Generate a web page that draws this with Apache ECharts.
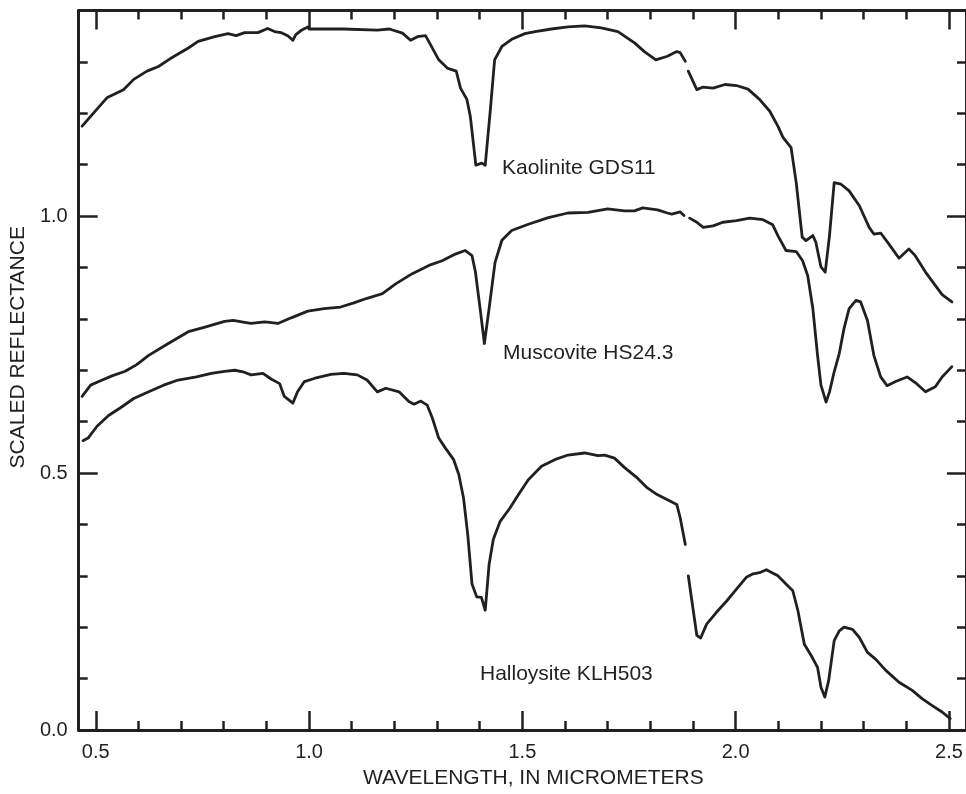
<!DOCTYPE html>
<html>
<head>
<meta charset="utf-8">
<script src="https://cdn.jsdelivr.net/npm/echarts@6/dist/echarts.min.js"></script>
<style>
  html, body { margin: 0; padding: 0; background: #fff; }
  #chart { width: 966px; height: 794px; }
</style>
</head>
<body>
<div id="chart"></div>
<script>
// spectra, [wavelength um, scaled reflectance]; null = gap in the record
const kaolinite = [
  [0.468,1.175],[0.526,1.230],[0.565,1.246],[0.589,1.266],[0.620,1.282],[0.647,1.291],[0.674,1.306],
  [0.717,1.327],[0.740,1.340],[0.779,1.349],[0.810,1.355],[0.829,1.351],[0.849,1.357],[0.880,1.357],
  [0.903,1.365],[0.919,1.359],[0.934,1.357],[0.950,1.351],[0.962,1.342],[0.969,1.353],[0.981,1.361],
  [0.997,1.368],[1.000,1.364],[1.080,1.364],[1.160,1.362],[1.188,1.364],[1.219,1.356],[1.238,1.342],
  [1.254,1.349],[1.273,1.351],[1.285,1.333],[1.304,1.304],[1.324,1.288],[1.345,1.282],[1.355,1.249],
  [1.370,1.227],[1.378,1.194],[1.391,1.099],[1.405,1.103],[1.413,1.099],[1.425,1.207],[1.435,1.304],
  [1.452,1.330],[1.475,1.344],[1.506,1.355],[1.530,1.359],[1.568,1.364],[1.607,1.368],[1.646,1.370],
  [1.685,1.366],[1.724,1.359],[1.763,1.337],[1.786,1.320],[1.813,1.304],[1.840,1.311],[1.862,1.320],
  [1.870,1.318],[1.882,1.301],[1.885,null],[1.889,1.282],[1.909,1.246],[1.924,1.251],[1.947,1.249],
  [1.975,1.256],[2.002,1.254],[2.029,1.247],[2.056,1.227],[2.080,1.204],[2.099,1.175],[2.111,1.153],
  [2.130,1.133],[2.142,1.065],[2.156,0.959],[2.165,0.952],[2.181,0.962],[2.188,0.949],[2.200,0.901],
  [2.210,0.891],[2.220,0.962],[2.231,1.065],[2.247,1.062],[2.266,1.049],[2.290,1.020],[2.313,0.978],
  [2.324,0.965],[2.340,0.967],[2.359,0.946],[2.383,0.918],[2.406,0.936],[2.421,0.923],[2.445,0.891],
  [2.468,0.865],[2.484,0.847],[2.507,0.833]
];

const muscovite = [
  [0.468,0.649],[0.488,0.671],[0.507,0.678],[0.538,0.689],[0.569,0.698],[0.596,0.711],[0.624,0.729],
  [0.670,0.752],[0.717,0.775],[0.756,0.784],[0.802,0.795],[0.822,0.797],[0.849,0.793],[0.864,0.791],
  [0.896,0.794],[0.927,0.791],[0.958,0.802],[0.997,0.815],[1.035,0.820],[1.074,0.823],[1.105,0.831],
  [1.136,0.840],[1.172,0.849],[1.203,0.868],[1.242,0.888],[1.281,0.904],[1.312,0.913],[1.343,0.926],
  [1.366,0.933],[1.382,0.923],[1.390,0.891],[1.401,0.820],[1.411,0.752],[1.422,0.820],[1.436,0.910],
  [1.452,0.953],[1.475,0.972],[1.514,0.984],[1.561,0.997],[1.607,1.006],[1.654,1.007],[1.700,1.014],
  [1.739,1.010],[1.763,1.010],[1.782,1.016],[1.817,1.012],[1.840,1.006],[1.850,1.004],[1.870,1.008],
  [1.879,1.001],[1.885,null],[1.892,0.996],[1.909,0.988],[1.924,0.978],[1.947,0.981],[1.970,0.988],
  [2.002,0.991],[2.033,0.996],[2.064,0.993],[2.087,0.983],[2.099,0.962],[2.118,0.933],[2.142,0.931],
  [2.157,0.913],[2.169,0.884],[2.181,0.820],[2.192,0.729],[2.200,0.671],[2.212,0.638],[2.220,0.658],
  [2.231,0.697],[2.243,0.733],[2.254,0.781],[2.266,0.820],[2.282,0.836],[2.293,0.833],[2.309,0.797],
  [2.324,0.729],[2.340,0.687],[2.355,0.670],[2.375,0.678],[2.402,0.687],[2.421,0.676],[2.445,0.658],
  [2.468,0.668],[2.484,0.687],[2.507,0.707]
];

const halloysite = [
  [0.470,0.563],[0.482,0.568],[0.503,0.591],[0.530,0.612],[0.558,0.627],[0.589,0.645],[0.624,0.658],
  [0.659,0.671],[0.693,0.681],[0.736,0.687],[0.771,0.694],[0.802,0.698],[0.826,0.700],[0.845,0.697],
  [0.864,0.691],[0.892,0.694],[0.911,0.683],[0.931,0.674],[0.942,0.649],[0.962,0.636],[0.973,0.658],
  [0.989,0.678],[1.012,0.684],[1.051,0.692],[1.082,0.694],[1.113,0.691],[1.136,0.681],[1.160,0.658],
  [1.180,0.665],[1.211,0.658],[1.234,0.639],[1.246,0.634],[1.262,0.640],[1.277,0.632],[1.289,0.607],
  [1.304,0.568],[1.320,0.548],[1.339,0.526],[1.351,0.497],[1.362,0.452],[1.372,0.380],[1.382,0.284],
  [1.393,0.259],[1.404,0.258],[1.413,0.233],[1.422,0.322],[1.432,0.371],[1.448,0.406],[1.471,0.432],
  [1.491,0.458],[1.514,0.487],[1.545,0.513],[1.576,0.526],[1.607,0.535],[1.646,0.539],[1.677,0.534],
  [1.693,0.535],[1.716,0.529],[1.739,0.511],[1.770,0.490],[1.793,0.471],[1.816,0.458],[1.840,0.448],
  [1.862,0.439],[1.870,0.413],[1.882,0.361],[1.885,null],[1.889,0.300],[1.909,0.184],[1.918,0.179],
  [1.932,0.206],[1.955,0.229],[1.979,0.251],[2.002,0.274],[2.025,0.297],[2.041,0.304],[2.056,0.306],
  [2.072,0.312],[2.099,0.300],[2.118,0.284],[2.134,0.271],[2.146,0.232],[2.161,0.167],[2.177,0.145],
  [2.192,0.122],[2.200,0.083],[2.209,0.064],[2.218,0.096],[2.231,0.174],[2.243,0.193],[2.254,0.200],
  [2.274,0.196],[2.290,0.180],[2.309,0.151],[2.328,0.138],[2.352,0.116],[2.383,0.093],[2.414,0.077],
  [2.437,0.061],[2.460,0.048],[2.484,0.035],[2.503,0.022]
];

const seriesNames = ['Kaolinite GDS11', 'Muscovite HS24.3', 'Halloysite KLH503'];

// ticks
const xMajor = [0.5, 1.0, 1.5, 2.0, 2.5];
const xMinor = [0.6, 0.7, 0.8, 0.9, 1.1, 1.2, 1.3, 1.4, 1.6, 1.7, 1.8, 1.9, 2.1, 2.2, 2.3, 2.4];
const yMajor = [0.0, 0.5, 1.0];
const yMinor = [0.1, 0.2, 0.3, 0.4, 0.6, 0.7, 0.8, 0.9, 1.1, 1.2, 1.3];

const INK = '#231f20';
const FONT = '"Liberation Sans", Arial, Helvetica, sans-serif';
const X_MIN = 0.46, X_MAX = 2.54, Y_MIN = 0, Y_MAX = 1.4;

const chart = echarts.init(document.getElementById('chart'), null, { renderer: 'canvas' });

// one axis per tick set (major/minor, both sides)
const axisCommon = (type, pos, ticks, len, showLine) => ({
    type: 'value',
    position: pos,
    min: type === 'x' ? X_MIN : Y_MIN,
    max: type === 'x' ? X_MAX : Y_MAX,
    splitLine: { show: false },
    axisLine: { show: showLine, onZero: false, lineStyle: { color: INK, width: 3 } },
    axisTick: { show: true, inside: true, length: len, customValues: ticks, lineStyle: { color: INK, width: 2.5 } },
    axisLabel: { show: false },
});

const xBottom = axisCommon('x', 'bottom', xMajor, 19, true);
xBottom.axisLabel = {
    show: true, customValues: xMajor, margin: 12,
    color: INK, fontSize: 20, fontFamily: FONT,
    formatter: v => v.toFixed(1),
};
xBottom.name = 'WAVELENGTH, IN MICROMETERS';
xBottom.nameLocation = 'middle';
xBottom.nameGap = 38;
// title sits a little right of the axis middle
xBottom.nameTextStyle = { color: INK, fontSize: 21, fontFamily: FONT, padding: [0, 0, 0, 22] };

const yLeft = axisCommon('y', 'left', yMajor, 19, true);
yLeft.axisLabel = {
    show: true, customValues: yMajor, margin: 11,
    color: INK, fontSize: 20, fontFamily: FONT,
    formatter: v => v.toFixed(1),
};
yLeft.name = 'SCALED REFLECTANCE';
yLeft.nameLocation = 'middle';
yLeft.nameGap = 43;
// and this one a little above
yLeft.nameTextStyle = { color: INK, fontSize: 21, fontFamily: FONT, padding: [0, 0, 0, 46] };

const option = {
    animation: false,
    backgroundColor: '#fff',
    grid: { left: 78, top: 10.5, width: 892, height: 722 },
    xAxis: [
        xBottom,
        axisCommon('x', 'bottom', xMinor, 9, false),
        axisCommon('x', 'top', xMajor, 19, true),
        axisCommon('x', 'top', xMinor, 9, false),
    ],
    yAxis: [
        yLeft,
        axisCommon('y', 'left', yMinor, 9, false),
        axisCommon('y', 'right', yMajor, 19, true),
        axisCommon('y', 'right', yMinor, 9, false),
    ],
    series: [kaolinite, muscovite, halloysite].map((d, i) => ({
        name: seriesNames[i],
        type: 'line',
        data: d,
        showSymbol: false,
        symbol: 'none',
        connectNulls: false,
        lineStyle: { color: INK, width: 2.8, join: 'round', cap: 'round' },
    })),
    graphic: [
        { type: 'text', left: 502, top: 158, style: { text: seriesNames[0], fill: INK, font: '21px ' + FONT } },
        { type: 'text', left: 503, top: 343, style: { text: seriesNames[1], fill: INK, font: '21px ' + FONT } },
        { type: 'text', left: 480, top: 664, style: { text: seriesNames[2], fill: INK, font: '21px ' + FONT } },
    ],
};

chart.setOption(option);
</script>
</body>
</html>
